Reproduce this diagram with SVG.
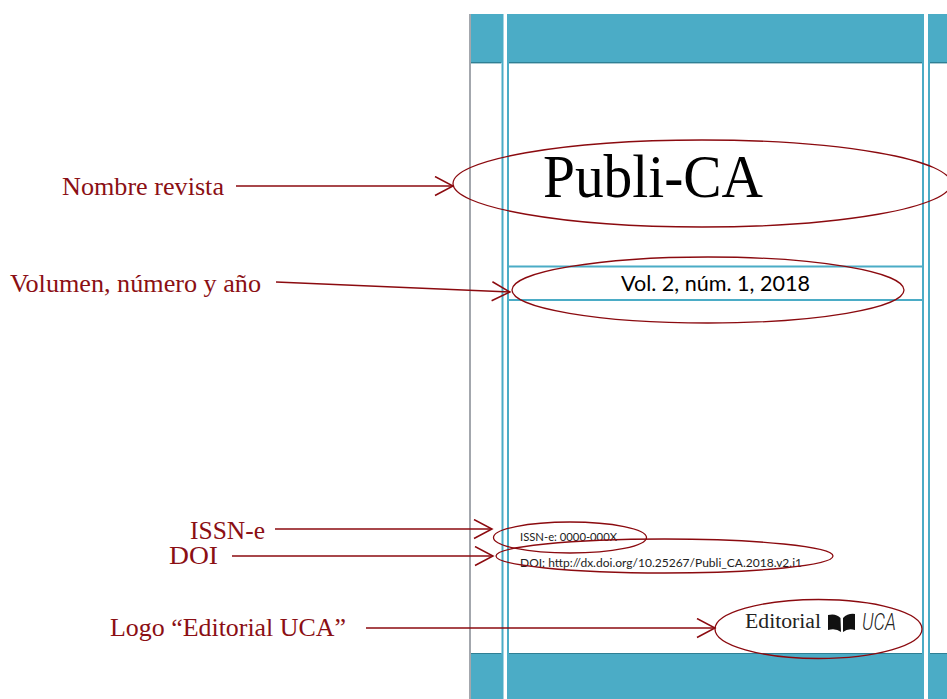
<svg xmlns="http://www.w3.org/2000/svg" width="947" height="699" viewBox="0 0 947 699">
<defs>
<marker id="arrow" markerWidth="22" markerHeight="22" refX="19" refY="10.500" orient="auto" markerUnits="userSpaceOnUse">
<path d="M1 1 L19 10.500 L1 20" fill="none" stroke="#8b0a0f" stroke-width="1.500"/>
</marker>
</defs>
<style>
.band{fill:#4bacc6}
.rule{fill:#2f7f94}
.v{stroke:#4bacc6;stroke-width:2;fill:none}
.h{stroke:#4bacc6;stroke-width:2;fill:none}
.lab{font-family:"Liberation Serif",serif;font-size:26px;fill:#8b0f14}
.ell{fill:none;stroke:#8b0a0f;stroke-width:1.300}
.conn{fill:none;stroke:#8b0a0f;stroke-width:1.500;marker-end:url(#arrow)}
.sm{font-family:"Lato","Open Sans",sans-serif;font-size:11.500px;fill:#222}
</style>
<rect width="947" height="699" fill="#fff"/>
<g id="page-layout">
<rect class="band" x="470" y="14" width="33" height="49"/>
<rect class="band" x="507" y="14" width="417" height="49"/>
<rect class="band" x="928" y="14" width="19" height="49"/>
<rect class="band" x="470" y="653" width="33" height="46"/>
<rect class="band" x="507" y="653" width="417" height="46"/>
<rect class="band" x="928" y="653" width="19" height="46"/>
<rect class="rule" x="471" y="62" width="30" height="1.400"/>
<rect class="rule" x="509" y="62" width="413" height="1.400"/>
<rect class="rule" x="930" y="62" width="17" height="1.400"/>
<rect class="rule" x="471" y="653" width="30" height="1"/>
<rect class="rule" x="509" y="653" width="413" height="1"/>
<rect class="rule" x="930" y="653" width="17" height="1"/>
<path d="M470 14V699" stroke="#a3a7ad" stroke-width="2" fill="none"/>
<path class="v" d="M502.500 14V699M508 14V699M923 14V699M929 14V699"/>
<path class="h" d="M508 266.500H923M508 300H923"/>
</g>
<g id="node-publica">
<text x="543" y="197" font-family="'Liberation Serif',serif" font-size="62" fill="#000" textLength="220" lengthAdjust="spacingAndGlyphs">Publi-CA</text>
<ellipse class="ell" cx="702" cy="183.500" rx="249" ry="43.500"/>
</g>
<g id="node-volumen">
<text x="621" y="291" font-family="'Lato','Open Sans',sans-serif" font-size="20.500" fill="#000" textLength="189" lengthAdjust="spacingAndGlyphs">Vol. 2, núm. 1, 2018</text>
<ellipse class="ell" cx="708" cy="290" rx="196" ry="33"/>
</g>
<g id="node-issn">
<text class="sm" x="520" y="541" textLength="97" lengthAdjust="spacingAndGlyphs">ISSN-e: 0000-000X</text>
<ellipse class="ell" cx="570" cy="537.500" rx="76.500" ry="15.500"/>
</g>
<g id="node-doi">
<text class="sm" x="520" y="567" textLength="282" lengthAdjust="spacingAndGlyphs">DOI: http://dx.doi.org/10.25267/Publi_CA.2018.v2.i1</text>
<ellipse class="ell" cx="664.500" cy="556" rx="168.500" ry="17"/>
</g>
<g id="node-logo">
<text x="745" y="628" font-family="'Liberation Serif',serif" font-size="20" fill="#222" textLength="76" lengthAdjust="spacingAndGlyphs">Editorial</text>
<path fill="#111" d="M828 615 Q836 613 840.500 618 L841 632 Q836 628 828 630Z M843 618 Q848 613 855 614 L855 630 Q848 628 843 632Z"/>
<text x="862" y="630" font-family="'Roboto',sans-serif" font-style="italic" font-weight="300" font-size="23" fill="#222" textLength="34" lengthAdjust="spacingAndGlyphs">UCA</text>
<ellipse class="ell" cx="818.500" cy="629" rx="103.500" ry="29.500"/>
</g>
<g id="labels">
<text class="lab" x="62" y="195" textLength="162" lengthAdjust="spacingAndGlyphs">Nombre revista</text>
<text class="lab" x="10" y="292" textLength="251" lengthAdjust="spacingAndGlyphs">Volumen, número y año</text>
<text class="lab" x="190" y="539" textLength="75" lengthAdjust="spacingAndGlyphs">ISSN-e</text>
<text class="lab" x="169" y="564" textLength="49" lengthAdjust="spacingAndGlyphs">DOI</text>
<text class="lab" x="110" y="636" textLength="236" lengthAdjust="spacingAndGlyphs">Logo “Editorial UCA”</text>
</g>
<g id="connectors">
<path class="conn" d="M236 186H453"/>
<path class="conn" d="M276 282L510 292"/>
<path class="conn" d="M275 529H492"/>
<path class="conn" d="M232 556H493"/>
<path class="conn" d="M366 628H715"/>
</g>
</svg>
